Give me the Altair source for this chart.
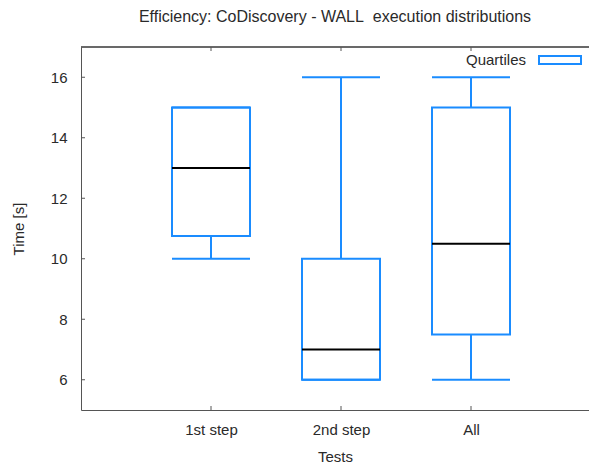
import altair as alt
import pandas as pd

categories = ["1st step", "2nd step", "All"]
positions = [1, 2, 3]
mins = [10, 6, 6]
q1s = [10.75, 6, 7.5]
medians = [13, 7, 10.5]
q3s = [15, 10, 15]
maxs = [15, 16, 16]
y_ticks = [6, 8, 10, 12, 14, 16]

W, H = 508, 363
BLUE = "#1a8cff"
AXC = "#555555"
TXT = "#2a2a2a"
FONT = "Liberation Sans"
FS = 15

df = pd.DataFrame({"cat": categories, "pos": positions, "min": mins, "q1": q1s,
                   "med": medians, "q3": q3s, "max": maxs})
ticks_df = pd.DataFrame({"v": y_ticks})
xt_df = pd.DataFrame({"p": positions})

xs = alt.Scale(domain=[0, W / 130], nice=False, zero=False)
ys = alt.Scale(domain=[5, 17], nice=False, zero=False)

label_expr = "datum.value == 1 ? '1st step' : datum.value == 2 ? '2nd step' : datum.value == 3 ? 'All' : ''"

base = alt.Chart(df).transform_calculate(lo="datum.pos - 0.3", hi="datum.pos + 0.3")

xaxis = alt.Axis(values=positions, labelExpr=label_expr, ticks=False, grid=False,
                 domainColor=AXC, labelPadding=12, title="Tests", titlePadding=12)
yaxis = alt.Axis(values=y_ticks, ticks=False, grid=False, domain=True, domainColor=AXC,
                 labelPadding=14, title="Time [s]", titlePadding=24)

box = base.mark_rect(fill=None, stroke=BLUE, strokeWidth=2).encode(
    x=alt.X("lo:Q", scale=xs, axis=xaxis), x2="hi:Q",
    y=alt.Y("q1:Q", scale=ys, axis=yaxis), y2="q3:Q")

wlow = base.mark_rule(color=BLUE, strokeWidth=2).encode(
    x=alt.X("pos:Q", scale=xs), y=alt.Y("min:Q", scale=ys), y2="q1:Q")
whigh = base.mark_rule(color=BLUE, strokeWidth=2).encode(
    x=alt.X("pos:Q", scale=xs), y=alt.Y("q3:Q", scale=ys), y2="max:Q")
caplo = base.mark_rule(color=BLUE, strokeWidth=2).encode(
    x=alt.X("lo:Q", scale=xs), x2="hi:Q", y=alt.Y("min:Q", scale=ys))
caphi = base.mark_rule(color=BLUE, strokeWidth=2).encode(
    x=alt.X("lo:Q", scale=xs), x2="hi:Q", y=alt.Y("max:Q", scale=ys))
med = base.mark_rule(color="black", strokeWidth=2).encode(
    x=alt.X("lo:Q", scale=xs), x2="hi:Q", y=alt.Y("med:Q", scale=ys))

yt = alt.Chart(ticks_df).mark_rule(color=AXC, strokeWidth=1).encode(
    y=alt.Y("v:Q", scale=ys), x=alt.value(0), x2=alt.value(4))
xtb = alt.Chart(xt_df).mark_rule(color=AXC, strokeWidth=1).encode(
    x=alt.X("p:Q", scale=xs), y=alt.value(H), y2=alt.value(H - 4))
xtt = alt.Chart(xt_df).mark_rule(color=AXC, strokeWidth=1).encode(
    x=alt.X("p:Q", scale=xs), y=alt.value(0), y2=alt.value(4))
top = alt.Chart(xt_df).mark_rule(color=AXC, strokeWidth=1).encode(
    x=alt.value(0), x2=alt.value(W), y=alt.value(0))

leg_df = pd.DataFrame({"t": ["Quartiles"]})
leg_text = alt.Chart(leg_df).mark_text(align="right", baseline="middle", fontSize=FS,
                                       font=FONT, color=TXT).encode(
    text="t:N", x=alt.value(445), y=alt.value(13))
leg_box = alt.Chart(leg_df).mark_rect(fill=None, stroke=BLUE, strokeWidth=2).encode(
    x=alt.value(458), x2=alt.value(500), y=alt.value(9), y2=alt.value(17))

chart = alt.layer(box, wlow, whigh, caplo, caphi, med, yt, xtb, xtt, top, leg_text, leg_box).properties(
    width=W, height=H,
    title=alt.TitleParams("Efficiency: CoDiscovery - WALL\u00a0 execution distributions",
                          fontSize=16, font=FONT, fontWeight="normal", color=TXT,
                          anchor="middle", offset=22),
    padding={"left": 73, "top": 39, "right": 0, "bottom": 56},
    autosize=alt.AutoSizeParams(type="none"),
).configure_view(stroke=None).configure_axis(
    labelFont=FONT, labelFontSize=FS, labelColor=TXT,
    titleFont=FONT, titleFontSize=FS, titleColor=TXT, titleFontWeight="normal",
)

chart.save("out.html", embed_options={"renderer": "svg", "actions": False})
